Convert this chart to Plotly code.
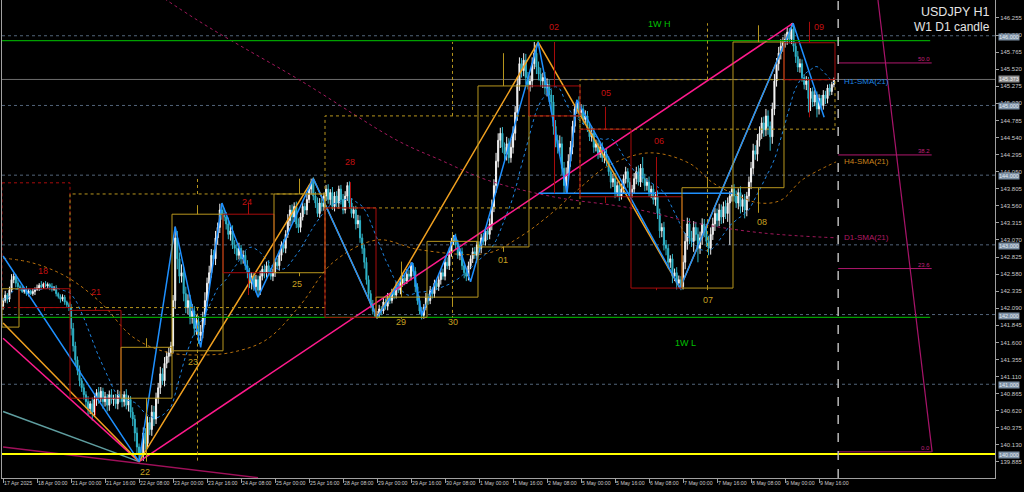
import plotly.graph_objects as go
import pandas as pd

# ---------------- data ----------------
FIRST_OPEN = 142.12
CLOSE_BY_DAY = [
    "142.20 142.28 142.22 142.35 142.50 142.55 142.45 142.40",
    "142.38 142.33 142.36 142.30 142.34 142.30 142.33 142.36 142.38 142.42 142.40 142.44 142.41 142.43 142.40 142.36 142.38 142.30 142.26 142.22 142.25 142.18 142.14 142.10",
    "141.80 141.55 141.35 141.20 141.05 140.95 140.85 140.75 140.65 140.72 140.60 140.78 140.88 140.80 140.90 140.75 140.82 140.70 140.85 140.78 140.80 140.72 140.85 140.80",
    "140.75 140.85 140.70 140.78 140.60 140.50 140.30 140.10 140.00 139.98 140.30 140.15 140.45 140.35 140.60 140.50 140.80 140.95 141.15 141.05 141.30 141.40 141.45 141.55",
    "142.20 143.10 142.80 142.55 142.60 142.30 142.10 142.20 141.95 142.05 141.80 141.90 141.70 141.75 141.95 142.20 142.45 142.60 142.85 142.80 143.10 143.25 143.50 143.45",
    "143.40 143.30 143.15 143.20 143.00 142.95 142.85 142.95 142.80 142.85 142.70 142.60 142.45 142.55 142.40 142.50 142.35 142.55 142.65 142.60 142.70 142.62 142.55 142.60",
    "142.75 142.70 142.85 143.00 142.95 143.15 143.35 143.50 143.40 143.55 143.30 143.25 143.40 143.55 143.50 143.65 143.80 143.90 143.70 143.60 143.45 143.60 143.55 143.70",
    "143.80 143.65 143.75 143.55 143.70 143.60 143.80 143.65 143.50 143.70 143.85 143.60 143.45 143.50 143.30 143.35 143.10 142.95 142.75 142.50 142.30 142.15 142.05 141.98",
    "142.00 142.08 142.05 142.18 142.12 142.25 142.20 142.32 142.28 142.40 142.35 142.45 142.52 142.48 142.58 142.55 142.70 142.62 142.40 142.20 142.05 141.99 142.10 142.25",
    "142.20 142.35 142.30 142.45 142.40 142.50 142.60 142.55 142.75 142.70 142.90 143.05 143.10 143.00 142.85 142.90 142.70 142.60 142.55 142.70 142.80 142.90 142.85 143.00",
    "142.95 143.10 143.05 143.20 143.15 143.30 143.55 143.85 144.20 144.50 144.60 144.40 144.30 144.45 144.25 144.40 144.60 144.90 145.30 145.60 145.50 145.65 145.40 145.30",
    "145.35 145.60 145.75 145.55 145.45 145.35 145.40 145.25 145.30 145.15 145.05 144.70 144.50 144.40 144.45 144.10 143.85 144.00 144.20 144.40 144.70 144.95 145.05 144.90",
    "144.95 144.80 144.85 144.70 144.55 144.60 144.40 144.45 144.30 144.40 144.25 144.30 144.20 144.05 143.90 143.95 143.75 143.85 143.70 143.80 143.95 144.05 143.90 143.75",
    "143.80 143.95 144.05 143.90 144.10 143.95 143.85 143.90 143.75 143.80 143.65 143.70 143.45 143.20 143.25 143.00 142.95 142.75 142.80 142.55 142.60 142.45 142.50 142.40",
    "142.75 143.05 143.30 143.10 143.05 143.25 143.15 142.95 143.10 143.30 143.20 143.05 142.95 143.15 143.30 143.45 143.35 143.50 143.40 143.55 143.45 143.60 143.70 143.80",
    "143.70 143.60 143.75 143.55 143.65 143.50 143.70 143.90 144.10 144.35 144.30 144.50 144.60 144.75 144.65 144.85 144.70 144.55 144.95 145.35 145.60 145.75 145.85 145.90",
    "145.95 146.05 145.95 146.10 145.85 145.70 145.55 145.60 145.40 145.30 145.35 145.10 145.20 145.05 145.15 144.95 145.10 145.00 145.15 145.10 145.25 145.20 145.30 145.37",
]
# wick lengths in 0.01 units
UP_WICK_BY_DAY = [
    "4 6 3 5 8 4 3 5",
    "3 4 2 5 3 2 4 3 5 3 6 2 4 3 2 5 3 4 2 3 4 3 2 3",
    "5 8 6 5 7 4 6 5 8 4 9 6 5 8 6 5 7 4 6 8 5 6 7 5",
    "6 5 8 6 5 7 6 8 5 10 8 7 9 8 10 9 8 7 10 8 9 7 8 6",
    "8 16 10 9 12 8 10 9 8 10 7 9 8 10 9 12 8 10 9 8 10 7 9 10",
    "8 7 9 6 8 7 6 8 5 7 6 8 7 6 5 7 6 8 5 7 6 8 5 6",
    "5 6 7 5 8 6 9 7 8 6 7 8 6 7 5 8 6 5 7 6 8 7 6 5",
    "6 7 5 8 6 7 5 6 8 7 5 6 7 5 6 8 7 6 5 7 6 5 6 4",
    "5 6 4 7 5 6 4 5 6 7 5 8 6 5 7 6 5 4 6 5 7 6 5 6",
    "5 6 4 5 6 7 5 6 5 7 6 5 4 6 7 5 6 5 7 6 5 6 7 5",
    "5 6 7 5 6 8 10 9 12 10 8 9 7 10 8 12 10 9 11 9 8 10 9 8",
    "8 9 16 7 8 9 7 8 9 7 8 10 9 8 12 10 9 11 10 9 8 7 3 8",
    "7 6 8 7 6 8 7 6 5 8 7 6 8 7 6 7 8 6 7 8 6 7 5 6",
    "6 8 7 9 6 16 7 6 8 5 7 6 8 7 6 8 7 6 5 7 6 8 6 5",
    "10 12 9 8 10 9 8 10 9 8 7 9 8 10 9 8 7 9 8 7 9 8 7 6",
    "7 8 6 9 7 8 6 8 9 10 8 9 10 8 9 10 8 7 9 10 8 9 10 8",
    "8 7 6 8 7 6 8 7 6 5 7 6 5 6 7 5 6 5 7 6 5 6 4 3",
]
DN_WICK_BY_DAY = [
    "5 3 6 4 3 5 6 4",
    "4 2 3 3 4 2 3 5 2 4 3 3 2 4 5 3 2 4 3 5 3 4 3 5",
    "10 8 9 7 8 6 7 9 10 8 12 7 9 8 6 10 7 9 8 6 9 7 8 6",
    "8 7 6 9 8 10 12 9 11 8 8 9 7 8 9 10 7 8 9 6 8 7 9 5",
    "10 12 15 10 9 11 8 10 9 8 10 9 12 8 9 10 8 9 7 8 9 10 8 9",
    "6 8 7 9 6 8 7 6 8 7 6 8 7 9 6 8 10 7 6 8 7 6 5 7",
    "6 5 7 8 6 7 5 8 9 7 6 8 7 5 6 7 5 8 6 7 5 6 7 6",
    "7 6 8 5 7 6 8 7 6 5 7 8 6 7 8 6 7 8 9 7 8 6 5 2",
    "4 5 6 4 5 6 5 4 6 5 4 6 5 6 4 5 6 7 8 6 5 6 5 4",
    "6 5 7 6 5 6 7 5 6 5 6 7 5 6 5 7 6 8 7 6 5 6 5 7",
    "6 7 5 6 8 7 9 8 10 9 11 8 10 9 8 7 9 10 12 9 10 8 9 7",
    "10 9 8 10 9 8 10 9 12 10 15 12 10 9 12 10 11 10 9 8 10 9 7 8",
    "6 7 5 8 6 7 8 6 7 5 6 8 7 6 9 7 8 6 7 5 6 7 8 6",
    "7 6 8 5 7 6 8 7 6 8 7 9 8 10 9 8 10 9 8 10 7 9 6 5",
    "4 10 12 9 8 15 9 20 8 10 9 8 10 9 8 10 9 8 10 9 8 12 60 8",
    "8 7 9 10 8 12 9 8 10 9 8 10 9 8 10 9 12 20 10 9 8 10 9 8",
    "7 8 6 7 8 9 7 8 6 7 8 20 18 7 6 12 8 7 6 8 7 6 5 4",
]

X_TICK_BARS = [0, 16, 32, 48, 64, 80, 96, 112, 128, 144, 160, 176, 192, 208, 224,
               240, 256, 272, 288, 304, 320, 336, 352, 368, 384]
X_TICK_TEXT = ["17 Apr 2025", "18 Apr 00:00", "21 Apr 00:00", "21 Apr 16:00", "22 Apr 08:00",
               "23 Apr 00:00", "23 Apr 16:00", "24 Apr 08:00", "25 Apr 00:00", "25 Apr 16:00",
               "28 Apr 08:00", "29 Apr 00:00", "29 Apr 16:00", "30 Apr 08:00", "1 May 00:00",
               "1 May 16:00", "2 May 08:00", "5 May 00:00", "5 May 16:00", "6 May 08:00",
               "7 May 00:00", "7 May 16:00", "8 May 08:00", "9 May 00:00", "9 May 16:00"]
Y_TICKS = [146.255, 146.010, 145.765, 145.520, 145.275, 145.030, 144.785, 144.540, 144.295,
           144.050, 143.805, 143.560, 143.315, 143.070, 142.825, 142.580, 142.335, 142.090,
           141.845, 141.600, 141.355, 141.110, 140.865, 140.620, 140.375, 140.130, 139.885]

ROUND_LEVELS = [146.0, 145.0, 144.0, 143.0, 142.0, 141.0]
KEY_LEVEL = 140.0
CURRENT_PRICE = 145.373
NOW_BAR = 393
WEEK_HIGH = 145.93
WEEK_LOW = 141.96

# daily candles (W1 D1 candle indicator)
DAY_START = [-16, 8, 32, 56, 80, 104, 128, 152, 176, 200, 224, 248, 272, 296, 320, 344, 368]
DAY_OPEN = [141.82, 142.37, 142.06, 140.80, 141.48, 143.44, 142.60, 143.53, 141.96, 142.25,
            142.97, 145.28, 144.66, 143.69, 142.38, 143.82, 145.90]
DAY_HIGH = [142.60, 142.45, 142.10, 141.66, 143.57, 143.60, 143.95, 143.90, 142.76, 143.14,
            145.75, 145.91, 144.98, 144.26, 143.97, 146.15, 146.20]
DAY_LOW = [141.70, 142.05, 140.55, 139.89, 141.45, 142.28, 142.55, 141.93, 141.94, 142.15,
           142.90, 143.74, 143.60, 142.35, 142.35, 143.46, 144.83]
DAY_CLOSE = [142.37, 142.10, 140.80, 141.53, 143.44, 142.60, 143.73, 141.96, 142.25, 143.05,
             145.28, 144.85, 143.69, 142.38, 143.82, 145.91, 145.37]

WEEK_START = [-88, 32, 152, 272]
WEEK_OPEN = [143.89, 142.10, 143.53, 144.66]
WEEK_HIGH_ = [None, 143.95, 145.91, 146.18]
WEEK_LOW_ = [None, 139.89, 141.96, 142.35]
WEEK_CLOSE = [142.10, 143.73, 144.85, 145.37]

DAY_LABEL_TEXT = ["18", "21", "22", "23", "24", "25", "28", "29", "30", "01", "02", "05", "06", "07", "08", "09"]
DAY_LABEL_BAR = [18.8, 43.8, 66.8, 89.4, 114.8, 138.4, 163.3, 187.3, 211.8, 235.3, 259.3, 283.8, 308.7, 331.8, 357.2, 384.0]
DAY_LABEL_PRICE = [142.62, 142.32, 139.74, 141.32, 143.61, 142.44, 144.19, 141.89, 141.89, 142.78,
                   146.13, 145.18, 144.49, 142.21, 143.33, 146.13]
DAY_LABEL_BULL = [False, False, True, True, False, True, False, True, True, True, False, False, False, True, True, False]

H1_ZZ_BAR = [0, 64, 81, 93, 103, 120, 146, 176, 192.5, 197, 212.7, 220, 251.8, 265.4, 270, 318.6, 371.8, 386.4]
H1_ZZ_PRICE = [142.84, 139.89, 143.26, 141.53, 143.60, 142.25, 143.95, 141.96, 142.75, 141.99, 143.14,
               142.47, 145.91, 143.74, 145.08, 142.38, 146.18, 144.83]
H4_ZZ_BAR = [0, 64, 146, 176, 251.8, 318.6, 371.8]
H4_ZZ_PRICE = [141.88, 139.89, 143.95, 141.96, 145.91, 142.38, 146.18]

TREND_UP_BAR = [64, 371.8]
TREND_UP_PRICE = [139.89, 146.18]
TREND_DN_BAR = [0, 64]
TREND_DN_PRICE = [141.66, 139.89]
CADET_BAR = [0, 64]
CADET_PRICE = [140.61, 139.89]
LOW_LINE_BAR = [0, 120]
LOW_LINE_PRICE = [140.10, 139.66]
SUPPORT_BAR = [252, 344]
SUPPORT_PRICE = [143.74, 143.74]

H4_SMA_BAR = [0, 14, 30, 46, 61, 77, 93, 108, 124, 140, 155, 176, 196, 228, 243, 256, 272, 284,
              304, 323, 334, 347, 356, 366, 376, 392]
H4_SMA_PRICE = [142.81, 142.74, 142.54, 142.17, 141.68, 141.46, 141.42, 141.46, 141.64, 142.14,
                142.74, 143.07, 142.93, 142.88, 143.11, 143.40, 143.83, 144.12, 144.32, 144.17,
                143.89, 143.69, 143.60, 143.64, 143.93, 144.19]
D1_SMA_BAR = [45.6, 92.7, 139.8, 185.4, 205.6, 227.8, 258.8, 295.1, 326.6, 357.6, 392.5]
D1_SMA_PRICE = [147.16, 146.20, 145.36, 144.50, 144.22, 143.93, 143.69, 143.53, 143.31, 143.17, 143.10]

FIB_LEVEL_TEXT = ["0.0", "23.6", "38.2", "50.0"]
FIB_PRICE = [140.03, 142.66, 144.29, 145.61]
FIB_BAR = [393, 437]
FIB_TREND_BAR = [407.8, 437.2]
FIB_TREND_PRICE = [147.51, 140.03]

# ---------------- build ----------------
def parse(lst):
    return [float(v) for s in lst for v in s.split()]

close = parse(CLOSE_BY_DAY)
upw = parse(UP_WICK_BY_DAY)
dnw = parse(DN_WICK_BY_DAY)
assert len(close) == len(upw) == len(dnw), (len(close), len(upw), len(dnw))
bars = list(range(len(close)))
opens = [FIRST_OPEN] + close[:-1]
highs = [max(o, c) + u / 100 for o, c, u in zip(opens, close, upw)]
lows = [min(o, c) - d / 100 for o, c, d in zip(opens, close, dnw)]
h1_sma = pd.Series(close).rolling(21, min_periods=1).mean()

YELLOW = "#b8961e"
RED = "#a80c0c"
FONT = "Liberation Sans, Arial, sans-serif"

fig = go.Figure()

def line_trace(x, y, color, width=1.5, dash="solid", shape="linear"):
    fig.add_trace(go.Scatter(x=x, y=y, mode="lines", line=dict(color=color, width=width, dash=dash, shape=shape),
                             hoverinfo="skip", showlegend=False))

line_trace(D1_SMA_BAR, D1_SMA_PRICE, "#a3185c", 1, "dot", "spline")
line_trace(H4_SMA_BAR, H4_SMA_PRICE, "#b8700c", 1, "dot", "spline")

fig.add_trace(go.Candlestick(
    x=bars, open=opens, high=highs, low=lows, close=close,
    increasing=dict(line=dict(color="#f2f2f2", width=1), fillcolor="#ffffff"),
    decreasing=dict(line=dict(color="#30b4c8", width=1), fillcolor="#30b4c8"),
    whiskerwidth=0, hoverinfo="skip", showlegend=False))

line_trace(bars, h1_sma, "#1e84e0", 1, "dot")
line_trace(CADET_BAR, CADET_PRICE, "#5f9ea0")
line_trace(LOW_LINE_BAR, LOW_LINE_PRICE, "#a0105a")
line_trace(TREND_DN_BAR, TREND_DN_PRICE, "#ff1a8c")
line_trace(TREND_UP_BAR, TREND_UP_PRICE, "#ff1a8c")
line_trace(H4_ZZ_BAR, H4_ZZ_PRICE, "#f0a020")
line_trace(H1_ZZ_BAR, H1_ZZ_PRICE, "#1e90ff")
line_trace(SUPPORT_BAR, SUPPORT_PRICE, "#1e90ff")
line_trace(FIB_TREND_BAR, FIB_TREND_PRICE, "#a8146a", 1.2)
for p in FIB_PRICE:
    line_trace(FIB_BAR, [p, p], "#b0186e", 1)

shapes = []
for p in ROUND_LEVELS:
    shapes.append(dict(type="line", xref="paper", x0=0, x1=1, yref="y", y0=p, y1=p,
                       line=dict(color="#52647a", width=1, dash="dot"), layer="below"))
shapes.append(dict(type="line", xref="paper", x0=0, x1=1, yref="y", y0=CURRENT_PRICE, y1=CURRENT_PRICE,
                   line=dict(color="#6c6c6c", width=1), layer="below"))
shapes.append(dict(type="line", xref="paper", x0=0, x1=1, yref="y", y0=KEY_LEVEL, y1=KEY_LEVEL,
                   line=dict(color="#ffff00", width=2), layer="above"))
for p in (WEEK_HIGH, WEEK_LOW):
    shapes.append(dict(type="line", xref="x", x0=-0.5, x1=436.3, yref="y", y0=p, y1=p,
                       line=dict(color="#00a000", width=1.2), layer="above"))
shapes.append(dict(type="line", xref="x", x0=NOW_BAR, x1=NOW_BAR, yref="paper", y0=0, y1=1,
                   line=dict(color="#b8b8b8", width=1.5, dash="dash"), layer="above"))

def candle_box(start, n, o, h, l, c, dash):
    col = YELLOW if c >= o else RED
    x0 = max(start - 0.5, -0.5)
    x1 = start + n - 0.5
    shapes.append(dict(type="rect", xref="x", yref="y", x0=x0, x1=x1, y0=o, y1=c,
                       line=dict(color=col, width=1, dash=dash), fillcolor="rgba(0,0,0,0)", layer="above"))
    xc = start + n / 2 - 0.5
    if xc >= -0.5:
        if h is not None:
            shapes.append(dict(type="line", xref="x", yref="y", x0=xc, x1=xc, y0=max(o, c), y1=h,
                               line=dict(color=col, width=1, dash=dash), layer="above"))
        if l is not None:
            shapes.append(dict(type="line", xref="x", yref="y", x0=xc, x1=xc, y0=min(o, c), y1=l,
                               line=dict(color=col, width=1, dash=dash), layer="above"))

for s, o, h, l, c in zip(WEEK_START, WEEK_OPEN, WEEK_HIGH_, WEEK_LOW_, WEEK_CLOSE):
    candle_box(s, 120, o, h, l, c, "dot")
for s, o, h, l, c in zip(DAY_START, DAY_OPEN, DAY_HIGH, DAY_LOW, DAY_CLOSE):
    candle_box(s, 24, o, h, l, c, "solid")

annotations = []
for t, b, p, bull in zip(DAY_LABEL_TEXT, DAY_LABEL_BAR, DAY_LABEL_PRICE, DAY_LABEL_BULL):
    annotations.append(dict(x=b, y=p, xref="x", yref="y", text=t, showarrow=False,
                            font=dict(family=FONT, size=9, color="#c8a020" if bull else "#c41010")))
annotations.append(dict(x=309, y=146.17, xref="x", yref="y", text="1W H", showarrow=False,
                        font=dict(family=FONT, size=9, color="#00c000")))
annotations.append(dict(x=321, y=141.59, xref="x", yref="y", text="1W L", showarrow=False,
                        font=dict(family=FONT, size=9, color="#00c000")))
for t, p in zip(FIB_LEVEL_TEXT, FIB_PRICE):
    annotations.append(dict(x=FIB_BAR[1], y=p, xref="x", yref="y", text=t, showarrow=False,
                            xanchor="right", yanchor="bottom", yshift=-1,
                            font=dict(family=FONT, size=6, color="#c0207a")))
for t, p, col in (("H1-SMA(21)", 145.35, "#1e84e0"), ("H4-SMA(21)", 144.19, "#c8801c"),
                  ("D1-SMA(21)", 143.10, "#b01a64")):
    annotations.append(dict(x=NOW_BAR + 1.6, y=p, xref="x", yref="y", text=t, showarrow=False,
                            xanchor="left", font=dict(family=FONT, size=8, color=col)))
for p in ROUND_LEVELS + [KEY_LEVEL]:
    annotations.append(dict(x=1, y=p, xref="paper", yref="y", text=f"{p:.3f}", showarrow=False,
                            xanchor="left", xshift=3, yshift=-1, bgcolor="#7a8ea2", borderpad=0,
                            font=dict(family=FONT, size=5.5, color="#e6edf4")))
annotations.append(dict(x=1, y=CURRENT_PRICE, xref="paper", yref="y", text=f"{CURRENT_PRICE:.3f}",
                        showarrow=False, xanchor="left", xshift=3, bgcolor="#8c8c8c", borderpad=0,
                        font=dict(family=FONT, size=5.5, color="#f4f4f4")))
annotations.append(dict(x=0.997, y=0.975, xref="paper", yref="paper", text="USDJPY H1", showarrow=False,
                        xanchor="right", yanchor="middle", font=dict(family=FONT, size=12.5, color="#e4e4e4")))
annotations.append(dict(x=0.997, y=0.943, xref="paper", yref="paper", text="W1 D1 candle", showarrow=False,
                        xanchor="right", yanchor="middle", font=dict(family=FONT, size=12, color="#e4e4e4")))

fig.update_layout(
    width=1024, height=492, autosize=False,
    margin=dict(l=2, r=29, t=0, b=14, autoexpand=False),
    paper_bgcolor="#000000", plot_bgcolor="#000000",
    showlegend=False, shapes=shapes, annotations=annotations,
    xaxis=dict(range=[-0.5, 466.8], tickvals=X_TICK_BARS, ticktext=X_TICK_TEXT,
               ticks="outside", ticklen=4, tickcolor="#a0a0a0", ticklabelposition="outside right",
               tickangle=0, automargin=False,
               tickfont=dict(family=FONT, size=5.2, color="#c8c8c8"),
               showgrid=False, zeroline=False, showline=True, linecolor="#a0a0a0", mirror=True,
               rangeslider=dict(visible=False), fixedrange=True),
    yaxis=dict(range=[139.655, 146.513], side="right", tickvals=Y_TICKS,
               ticktext=[f"{v:.3f}" for v in Y_TICKS], automargin=False,
               ticks="outside", ticklen=3, tickcolor="#a0a0a0",
               tickfont=dict(family=FONT, size=6, color="#c8c8c8"),
               showgrid=False, zeroline=False, showline=True, linecolor="#a0a0a0", mirror=True,
               fixedrange=True),
)

fig.write_html("out.html", config={"displayModeBar": False},
               post_script="document.body.style.margin='0';")
